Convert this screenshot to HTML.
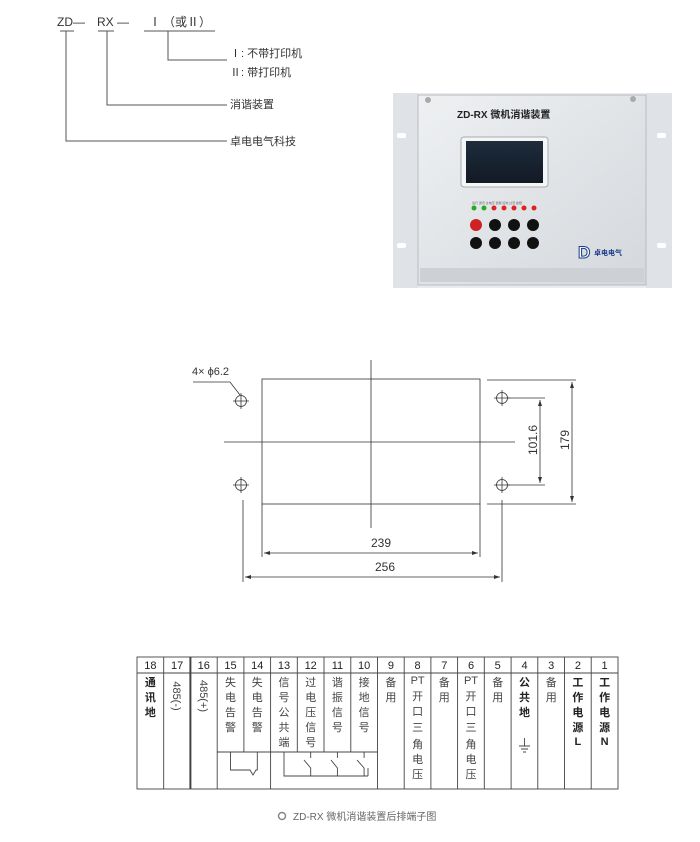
<!DOCTYPE html>
<html><head><meta charset="utf-8"><style>
body{margin:0;background:#fff;}
svg{display:block;font-family:"Liberation Sans","Noto Sans CJK SC",sans-serif;}
</style></head><body>
<svg width="700" height="842" viewBox="0 0 700 842">
<defs>
<linearGradient id="pg" x1="0" y1="0" x2="1" y2="1"><stop offset="0" stop-color="#eef0f2"/><stop offset="1" stop-color="#d4d8dc"/></linearGradient>
<linearGradient id="lcd" x1="0" y1="0" x2="0" y2="1"><stop offset="0" stop-color="#1e2c3c"/><stop offset="1" stop-color="#121a24"/></linearGradient>
</defs>
<!-- top naming -->
<g fill="#333" font-size="12">
<text x="57" y="26">ZD—</text>
<text x="97" y="26">RX —</text>
<text x="149" y="26">Ⅰ</text>
<text x="163" y="26">（或Ⅱ）</text>
<text x="230" y="57" font-size="11">Ⅰ:  不带打印机</text>
<text x="230" y="76" font-size="11">Ⅱ:  带打印机</text>
<text x="230" y="108" font-size="11">消谐装置</text>
<text x="230" y="145" font-size="11">卓电电气科技</text>
</g>
<g stroke="#555" stroke-width="1" fill="none">
<path d="M60 31H74M98 31H114M144 31H215"/>
<path d="M168 31V60H227M107 31V105H227M66 31V141H227"/>
</g>
<!-- photo -->
<rect x="393" y="93" width="279" height="195" fill="#e9ebee"/>
<rect x="393" y="93" width="25" height="195" fill="#dfe2e6"/>
<rect x="646" y="93" width="26" height="195" fill="#dfe2e6"/>
<rect x="418" y="95" width="228" height="190" fill="url(#pg)" stroke="#b8bcc0"/>
<rect x="420" y="268" width="224" height="14" fill="#cdd1d5"/>
<rect x="397" y="133" width="9" height="5" rx="2" fill="#fff"/><rect x="397" y="243" width="9" height="5" rx="2" fill="#fff"/>
<rect x="657" y="133" width="9" height="5" rx="2" fill="#fff"/><rect x="657" y="243" width="9" height="5" rx="2" fill="#fff"/>
<circle cx="428" cy="100" r="3" fill="#aaa"/><circle cx="633" cy="99" r="3" fill="#aaa"/>
<text x="457" y="118" font-size="10" font-weight="bold" fill="#222">ZD-RX 微机消谐装置</text>
<rect x="461" y="137" width="87" height="50" rx="3" fill="#f4f5f6" stroke="#aaa"/>
<rect x="466" y="141" width="77" height="42" fill="url(#lcd)"/>
<g font-size="3" fill="#666"><text x="472" y="204">运行 通讯 过电压 谐振 接地 过流 故障</text></g>
<g><circle cx="474" cy="208" r="2.5" fill="#2a2"/><circle cx="484" cy="208" r="2.5" fill="#2a2"/><circle cx="494" cy="208" r="2.5" fill="#d22"/><circle cx="504" cy="208" r="2.5" fill="#d22"/><circle cx="514" cy="208" r="2.5" fill="#d22"/><circle cx="524" cy="208" r="2.5" fill="#d22"/><circle cx="534" cy="208" r="2.5" fill="#d22"/></g>
<g fill="#111"><circle cx="476" cy="225" r="6" fill="#c22"/><circle cx="495" cy="225" r="6"/><circle cx="514" cy="225" r="6"/><circle cx="533" cy="225" r="6"/>
<circle cx="476" cy="243" r="6"/><circle cx="495" cy="243" r="6"/><circle cx="514" cy="243" r="6"/><circle cx="533" cy="243" r="6"/></g>
<text x="578" y="258" font-size="17" font-weight="bold" fill="#fff" stroke="#1a3c8a" stroke-width="1">D</text>
<text x="594" y="255" font-size="7" fill="#1a3c8a" font-weight="bold">卓电电气</text>
<!-- dimension drawing -->
<g stroke="#333" stroke-width="0.8" fill="none">
<rect x="262" y="379" width="218" height="125"/>
<path d="M371 360V528M224 442H515"/>
<circle cx="241" cy="401" r="5.5"/><circle cx="241" cy="485" r="5.5"/><circle cx="502" cy="398" r="5.5"/><circle cx="502" cy="485" r="5.5"/>
<path d="M233 401H249M241 393V409M233 485H249M241 477V493M494 398H510M502 390V406M494 485H510M502 477V493"/>
<path d="M193 382H230L240 395"/>
<path d="M262 504V557M480 504V557M264 553H478"/>
<path d="M243 500V582M502 500V582M245 577H500"/>
<path d="M508 398H545M508 485H545M540 400V483"/>
<path d="M487 380H576M487 504H576M572 382V502"/>
</g>
<g fill="#333">
<path d="M264 553l6-2v4zM478 553l-6-2v4zM245 577l6-2v4zM500 577l-6-2v4zM540 400l-2 6h4zM540 483l-2-6h4zM572 382l-2 6h4zM572 502l-2-6h4z"/>
</g>
<g fill="#333" font-size="11">
<text x="192" y="375">4× ϕ6.2</text>
<text x="371" y="547" font-size="12">239</text>
<text x="375" y="571" font-size="12">256</text>
<text transform="translate(537,440) rotate(-90)" text-anchor="middle" font-size="12">101.6</text>
<text transform="translate(569,440) rotate(-90)" text-anchor="middle" font-size="12">179</text>
</g>
<!-- terminal table -->
<g stroke="#444" stroke-width="0.9" fill="none">
<rect x="137" y="657" width="481" height="132"/>
<path d="M137 673H618"/>
<path d="M163.7 657V789M190.4 657V789M217.2 657V789M243.9 657V752M270.6 657V789M297.3 657V752M324 657V752M350.8 657V752M377.5 657V789M404.2 657V789M430.9 657V789M457.6 657V789M484.3 657V789M511.1 657V789M537.8 657V789M564.5 657V789M591.2 657V789"/>
<path d="M190.4 657V789" stroke-width="2"/>
<path d="M217.2 752H377.5"/>
<path d="M230.5 752V770H250L253 775L256 770H257.3V752"/>
<path d="M284 752V776H368M310.7 776V768L304 760M310.7 758V752M337.4 776V768L331 760M337.4 758V752M364.1 776V768L357 760M364.1 758V752M368 776V768"/>
<path d="M524.5 738V746M519 746H530M521 749H528M523 752H526"/>
</g>
<g font-size="11" fill="#222" text-anchor="middle">
<text x="150.4" y="669">18</text><text x="177.1" y="669">17</text><text x="203.8" y="669">16</text><text x="230.5" y="669">15</text><text x="257.3" y="669">14</text><text x="284" y="669">13</text><text x="310.7" y="669">12</text><text x="337.4" y="669">11</text><text x="364.1" y="669">10</text><text x="390.9" y="669">9</text><text x="417.6" y="669">8</text><text x="444.3" y="669">7</text><text x="471" y="669">6</text><text x="497.7" y="669">5</text><text x="524.5" y="669">4</text><text x="551.2" y="669">3</text><text x="577.9" y="669">2</text><text x="604.6" y="669">1</text>
</g>
<g font-size="11" fill="#444" text-anchor="middle">
<text x="150.4" font-weight="bold" fill="#222"><tspan x="150.4" y="686">通</tspan><tspan x="150.4" y="701">讯</tspan><tspan x="150.4" y="716">地</tspan></text>
<text transform="translate(173,696) rotate(90)">485(-)</text>
<text transform="translate(200,696) rotate(90)">485(+)</text>
<text><tspan x="230.5" y="686">失</tspan><tspan x="230.5" y="701">电</tspan><tspan x="230.5" y="716">告</tspan><tspan x="230.5" y="731">警</tspan></text>
<text><tspan x="257.3" y="686">失</tspan><tspan x="257.3" y="701">电</tspan><tspan x="257.3" y="716">告</tspan><tspan x="257.3" y="731">警</tspan></text>
<text><tspan x="284" y="686">信</tspan><tspan x="284" y="701">号</tspan><tspan x="284" y="716">公</tspan><tspan x="284" y="731">共</tspan><tspan x="284" y="746">端</tspan></text>
<text><tspan x="310.7" y="686">过</tspan><tspan x="310.7" y="701">电</tspan><tspan x="310.7" y="716">压</tspan><tspan x="310.7" y="731">信</tspan><tspan x="310.7" y="746">号</tspan></text>
<text><tspan x="337.4" y="686">谐</tspan><tspan x="337.4" y="701">振</tspan><tspan x="337.4" y="716">信</tspan><tspan x="337.4" y="731">号</tspan></text>
<text><tspan x="364.1" y="686">接</tspan><tspan x="364.1" y="701">地</tspan><tspan x="364.1" y="716">信</tspan><tspan x="364.1" y="731">号</tspan></text>
<text><tspan x="390.9" y="686">备</tspan><tspan x="390.9" y="701">用</tspan></text>
<text><tspan x="417.6" y="684">PT</tspan><tspan x="417.6" y="700">开</tspan><tspan x="417.6" y="715">口</tspan><tspan x="417.6" y="731">三</tspan><tspan x="417.6" y="748">角</tspan><tspan x="417.6" y="763">电</tspan><tspan x="417.6" y="778">压</tspan></text>
<text><tspan x="444.3" y="686">备</tspan><tspan x="444.3" y="701">用</tspan></text>
<text><tspan x="471" y="684">PT</tspan><tspan x="471" y="700">开</tspan><tspan x="471" y="715">口</tspan><tspan x="471" y="731">三</tspan><tspan x="471" y="748">角</tspan><tspan x="471" y="763">电</tspan><tspan x="471" y="778">压</tspan></text>
<text><tspan x="497.7" y="686">备</tspan><tspan x="497.7" y="701">用</tspan></text>
<text font-weight="bold" fill="#222"><tspan x="524.5" y="686">公</tspan><tspan x="524.5" y="701">共</tspan><tspan x="524.5" y="716">地</tspan></text>
<text><tspan x="551.2" y="686">备</tspan><tspan x="551.2" y="701">用</tspan></text>
<text font-weight="bold" fill="#222"><tspan x="577.9" y="686">工</tspan><tspan x="577.9" y="701">作</tspan><tspan x="577.9" y="716">电</tspan><tspan x="577.9" y="731">源</tspan><tspan x="577.9" y="745">L</tspan></text>
<text font-weight="bold" fill="#222"><tspan x="604.6" y="686">工</tspan><tspan x="604.6" y="701">作</tspan><tspan x="604.6" y="716">电</tspan><tspan x="604.6" y="731">源</tspan><tspan x="604.6" y="745">N</tspan></text>
</g>
<circle cx="282" cy="816" r="3.5" fill="none" stroke="#888" stroke-width="1.5"/>
<text x="293" y="820" font-size="10" fill="#666">ZD-RX 微机消谐装置后排端子图</text>
</svg>
</body></html>
